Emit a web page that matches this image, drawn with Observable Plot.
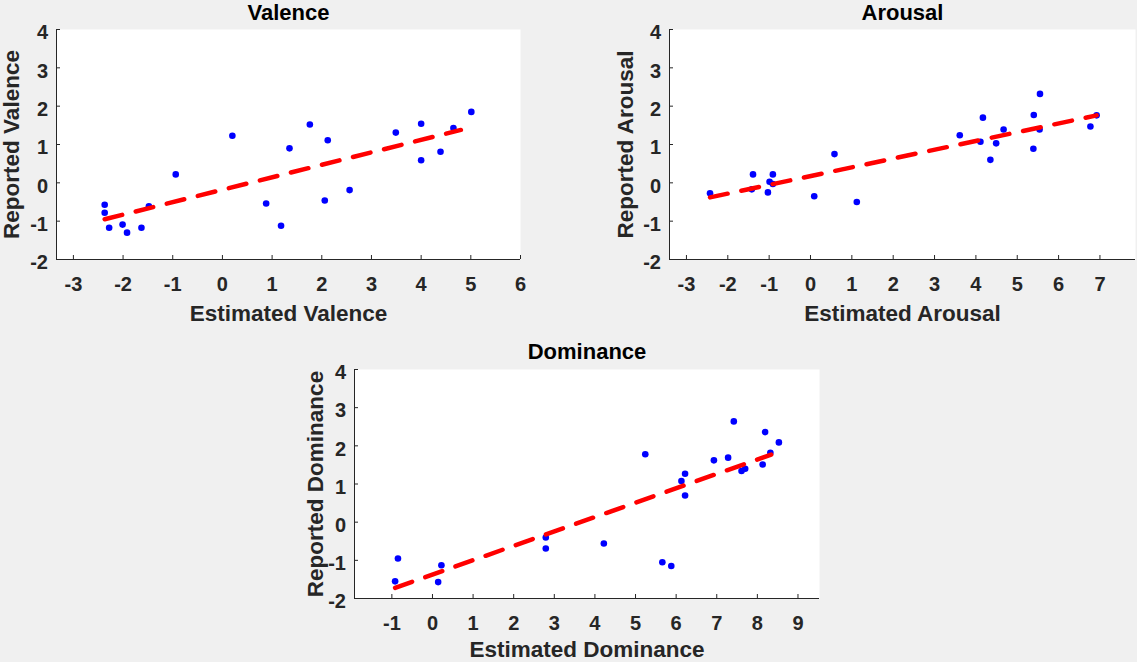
<!DOCTYPE html>
<html><head><meta charset="utf-8">
<script src="https://cdn.jsdelivr.net/npm/d3@7"></script>
<script src="https://cdn.jsdelivr.net/npm/@observablehq/plot@0.6"></script>
<style>
body{margin:0;background:#f0f0f0;}
#fig{position:relative;width:1137px;height:662px;background:#f0f0f0;overflow:hidden;font-family:"Liberation Sans",Arial,Helvetica,sans-serif;}
#fig > .panel{position:absolute;}
</style></head><body><div id="fig"></div>
<script>
// ---- Data ----
const yTicks = [-2, -1, 0, 1, 2, 3, 4];
const yDomain = [-2, 4];

const valenceTitle = "Valence";
const valenceXLabel = "Estimated Valence";
const valenceYLabel = "Reported Valence";
const valenceXTicks = [-3, -2, -1, 0, 1, 2, 3, 4, 5, 6];
const valenceXDomain = [-3.34, 6];
const valenceEstimated = [-2.37, -2.37, -2.28, -2.01, -1.92, -1.63, -1.48, -0.94, 0.20, 0.88, 1.18, 1.35, 1.76, 2.06, 2.12, 2.56, 3.49, 4.00, 4.00, 4.39, 4.65, 5.01];
const valenceReported  = [-0.57, -0.78, -1.17, -1.09, -1.30, -1.17, -0.61, 0.22, 1.23, -0.54, -1.12, 0.90, 1.52, -0.46, 1.11, -0.19, 1.31, 1.54, 0.59, 0.81, 1.43, 1.85];
const valenceFitX = [-2.37, 4.80];
const valenceFitY = [-0.95, 1.38];

const arousalTitle = "Arousal";
const arousalXLabel = "Estimated Arousal";
const arousalYLabel = "Reported Arousal";
const arousalXTicks = [-3, -2, -1, 0, 1, 2, 3, 4, 5, 6, 7];
const arousalXDomain = [-3.41, 7.86];
const arousalEstimated = [-2.43, -1.42, -1.39, -1.03, -0.99, -0.91, -0.91, 0.09, 0.58, 1.12, 3.61, 4.11, 4.17, 4.35, 4.49, 4.67, 5.40, 5.39, 5.54, 5.55, 6.77, 6.92];
const arousalReported  = [-0.27, -0.17, 0.22, -0.25, 0.03, 0.22, -0.03, -0.35, 0.75, -0.50, 1.24, 1.07, 1.70, 0.60, 1.03, 1.39, 1.77, 0.89, 1.39, 2.32, 1.47, 1.76];
const arousalFitX = [-2.43, 6.92];
const arousalFitY = [-0.38, 1.76];

const dominanceTitle = "Dominance";
const dominanceXLabel = "Estimated Dominance";
const dominanceYLabel = "Reported Dominance";
const dominanceXTicks = [-1, 0, 1, 2, 3, 4, 5, 6, 7, 8, 9];
const dominanceXDomain = [-1.92, 9.53];
const dominanceEstimated = [-0.92, -0.85, 0.14, 0.22, 2.79, 2.79, 4.22, 5.24, 5.66, 5.88, 6.13, 6.22, 6.22, 6.93, 7.28, 7.42, 7.61, 7.70, 8.13, 8.19, 8.32, 8.53];
const dominanceReported  = [-1.55, -0.95, -1.57, -1.13, -0.40, -0.69, -0.56, 1.78, -1.05, -1.15, 1.08, 1.27, 0.70, 1.62, 1.69, 2.64, 1.34, 1.40, 1.51, 2.36, 1.82, 2.09];
const dominanceFitX = [-0.92, 8.34];
const dominanceFitY = [-1.72, 1.77];

// ---- Drawing ----
const axisColor = "#262626";
const textColor = "#262626";
const font = '"Liberation Sans", Arial, Helvetica, sans-serif';
const tickFont = 20;
const labelFont = 22.5;
const titleFont = 22;

function panel(cfg) {
  const L = cfg.layout;
  const pw = L.width - L.mL - L.mR, ph = L.height - L.mT - L.mB;
  const pts = cfg.xs.map((x, i) => ({x, y: cfg.ys[i]}));
  const fit = cfg.fitX.map((x, i) => ({x, y: cfg.fitY[i]}));
  const chart = Plot.plot({
    width: L.width, height: L.height,
    marginLeft: L.mL, marginTop: L.mT, marginRight: L.mR, marginBottom: L.mB,
    style: {background: "transparent", overflow: "visible", fontFamily: font, color: textColor},
    x: {domain: cfg.xDomain},
    y: {domain: yDomain},
    marks: [
      Plot.frame({fill: "white", stroke: null}),
      Plot.tickX(cfg.xTicks, {x: d => d, insetTop: ph - 4, stroke: axisColor, strokeWidth: 1}),
      Plot.tickY(yTicks, {y: d => d, insetRight: pw - 4, stroke: axisColor, strokeWidth: 1}),
      Plot.ruleY([yDomain[0]], {stroke: axisColor, strokeWidth: 1}),
      Plot.ruleX([cfg.xDomain[0]], {stroke: axisColor, strokeWidth: 1}),
      Plot.axisX(cfg.xTicks, {tickSize: 0, tickPadding: 31.4 - 0.71 * tickFont, fontSize: tickFont, fontWeight: "bold", tickFormat: d => String(d), label: null}),
      Plot.axisY(yTicks, {tickSize: 0, tickPadding: 8.5, dy: 9.7 - 0.32 * tickFont, fontSize: tickFont, fontWeight: "bold", tickFormat: d => String(d), label: null}),
      Plot.dot(pts, {x: "x", y: "y", r: 3.3, fill: "#0000ff", stroke: null}),
      Plot.line(fit, {x: "x", y: "y", stroke: "#ff0000", strokeWidth: 4.5, strokeDasharray: "18,14"}),
      Plot.text([cfg.title], {text: d => d, frameAnchor: "top", dy: -cfg.titleGap, lineAnchor: "bottom", fontSize: titleFont, fontWeight: "bold", fill: "#000"}),
      Plot.text([cfg.xLabel], {text: d => d, frameAnchor: "bottom", dy: cfg.xLabelGap, lineAnchor: "bottom", fontSize: labelFont, fontWeight: "bold", fill: textColor}),
      Plot.text([cfg.yLabel], {text: d => d, frameAnchor: "left", textAnchor: "middle", dx: -cfg.yLabelGap, rotate: -90, lineAnchor: "bottom", fontSize: labelFont, fontWeight: "bold", fill: textColor})
    ]
  });
  const wrap = document.createElement("div");
  wrap.className = "panel";
  wrap.style.left = L.left + "px";
  wrap.style.top = L.top + "px";
  wrap.appendChild(chart);
  document.getElementById("fig").appendChild(wrap);
}

panel({
  title: valenceTitle, xLabel: valenceXLabel, yLabel: valenceYLabel,
  xs: valenceEstimated, ys: valenceReported, fitX: valenceFitX, fitY: valenceFitY,
  xDomain: valenceXDomain, xTicks: valenceXTicks, titleGap: 10, xLabelGap: 61.4, yLabelGap: 37.5,
  layout: {left: 0, top: 0, width: 560, height: 331, mL: 56, mT: 29, mR: 40, mB: 72}
});
panel({
  title: arousalTitle, xLabel: arousalXLabel, yLabel: arousalYLabel,
  xs: arousalEstimated, ys: arousalReported, fitX: arousalFitX, fitY: arousalFitY,
  xDomain: arousalXDomain, xTicks: arousalXTicks, titleGap: 10, xLabelGap: 61.4, yLabelGap: 36.5,
  layout: {left: 590, top: 0, width: 547, height: 331, mL: 79, mT: 29, mR: 2, mB: 72}
});
panel({
  title: dominanceTitle, xLabel: dominanceXLabel, yLabel: dominanceYLabel,
  xs: dominanceEstimated, ys: dominanceReported, fitX: dominanceFitX, fitY: dominanceFitY,
  xDomain: dominanceXDomain, xTicks: dominanceXTicks, titleGap: 10.5, xLabelGap: 58.5, yLabelGap: 31.5,
  layout: {left: 280, top: 331, width: 560, height: 331, mL: 74, mT: 38, mR: 21, mB: 64}
});
</script></body></html>
